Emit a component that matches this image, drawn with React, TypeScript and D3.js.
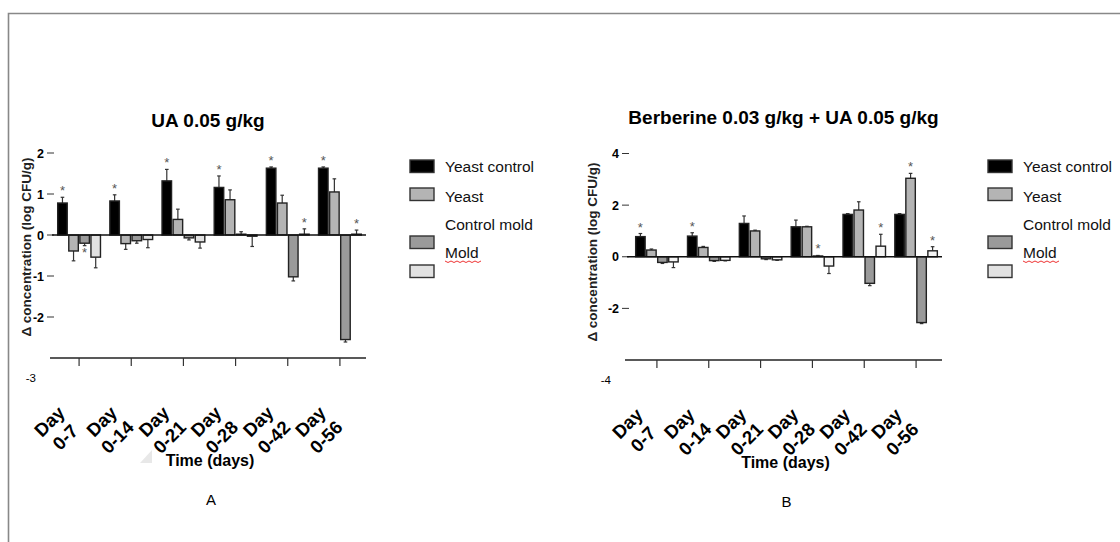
import React from 'react';
import * as d3 from 'd3';

const groups = ['0-7', '0-14', '0-21', '0-28', '0-42', '0-56'];
const seriesNames = ['Yeast control', 'Yeast', 'Control mold', 'Mold'];

// panel A: UA 0.05 g/kg
const yeastControlA = [0.78, 0.83, 1.32, 1.16, 1.63, 1.63];
const yeastControlErrA = [0.14, 0.15, 0.28, 0.28, 0.03, 0.03];
const yeastA = [-0.39, -0.21, 0.38, 0.86, 0.78, 1.05];
const yeastErrA = [0.24, 0.14, 0.25, 0.24, 0.19, 0.32];
const controlMoldA = [-0.2, -0.14, -0.07, 0.02, -1.02, -2.55];
const controlMoldErrA = [0.06, 0.06, 0.05, 0.06, 0.1, 0.06];
const moldA = [-0.54, -0.11, -0.17, -0.03, 0.02, 0.02];
const moldErrA = [0.26, 0.2, 0.15, 0.25, 0.13, 0.1];
const starsA = [
  [1, 1, 1, 1, 1, 1],
  [0, 0, 0, 0, 0, 0],
  [1, 0, 0, 0, 0, 0],
  [0, 0, 0, 0, 1, 1],
];
const ticksA = [2, 1, 0, -1, -2];

// panel B: Berberine 0.03 g/kg + UA 0.05 g/kg
const yeastControlB = [0.78, 0.8, 1.29, 1.16, 1.64, 1.64];
const yeastControlErrB = [0.12, 0.13, 0.29, 0.26, 0.03, 0.03];
const yeastB = [0.26, 0.36, 1.0, 1.16, 1.81, 3.04];
const yeastErrB = [0.04, 0.04, 0.03, 0.02, 0.32, 0.19];
const controlMoldB = [-0.22, -0.15, -0.08, 0.03, -1.03, -2.55];
const controlMoldErrB = [0.04, 0.03, 0.03, 0.02, 0.09, 0.04];
const moldB = [-0.2, -0.14, -0.12, -0.36, 0.41, 0.23];
const moldErrB = [0.22, 0.02, 0.02, 0.29, 0.46, 0.16];
const starsB = [
  [1, 1, 0, 0, 0, 0],
  [0, 0, 0, 0, 0, 1],
  [0, 0, 0, 1, 0, 0],
  [0, 0, 0, 0, 1, 1],
];
const ticksB = [4, 2, 0, -2];

const FONT = '"Liberation Sans", Arial, sans-serif';
const legendFills = ['#000000', '#b4b4b4', '#9a9a9a', '#e2e2e2'];

function Panel({ x0, title, titleY, letter, values, errs, stars, ticks, yDomain, yRange, xRange, axisLeft, barFills, yLabelX, yLabelY }) {
  const y = d3.scaleLinear().domain(yDomain).range(yRange);
  const x = d3.scaleBand().domain(groups).range(xRange).paddingInner(0.18).paddingOuter(0.09);
  const xs = d3.scaleBand().domain(seriesNames).range([0, x.bandwidth()]).paddingInner(0.14);
  const axisY = y(yDomain[0]);
  const axisRight = xRange[1];
  const mid = (axisLeft + axisRight) / 2;
  const bw = xs.bandwidth();

  return (
    <g>
      <text x={mid} y={titleY} textAnchor="middle" fontSize={19} fontWeight="bold" fontFamily={FONT}>{title}</text>

      {/* y axis tick labels */}
      {ticks.map(t => (
        <g key={t}>
          <text x={axisLeft - 6} y={y(t) + 4.5} textAnchor="end" fontSize={12.5} fontWeight="bold" fontFamily={FONT}>{t}</text>
          <line x1={axisLeft - 3} x2={axisLeft + 4} y1={y(t)} y2={y(t)} stroke="#333" strokeWidth={1} />
        </g>
      ))}
      <text x={axisLeft - 14} y={axisY + 24} textAnchor="end" fontSize={11.5} fontFamily={FONT}>{yDomain[0]}</text>

      <text transform={`translate(${yLabelX},${yLabelY}) rotate(-90)`} textAnchor="middle"
        fontSize={13.5} fontWeight="bold" fill="#222" fontFamily={FONT}>Δ concentration (log CFU/g)</text>

      {/* bars */}
      {values.map((vals, s) => vals.map((v, i) => {
        const bx = x(groups[i]) + xs(seriesNames[s]);
        const top = y(Math.max(0, v));
        const h = Math.abs(y(v) - y(0));
        const dir = v >= 0 ? -1 : 1;
        const ey = y(v + (v >= 0 ? errs[s][i] : -errs[s][i]));
        const cx = bx + bw / 2;
        return (
          <g key={`${s}-${i}`}>
            <line x1={cx} x2={cx} y1={y(v)} y2={ey} stroke="#333" strokeWidth={1.2} />
            <line x1={cx - 1.8} x2={cx + 1.8} y1={ey} y2={ey} stroke="#333" strokeWidth={1.2} />
            <rect x={bx} y={top} width={bw} height={Math.max(h, 0.8)} fill={barFills[s]} stroke="#222" strokeWidth={1.4} />
            {stars[s][i] ? (
              <text x={cx} y={dir < 0 ? ey - 2 : ey + 11} textAnchor="middle" fontSize={13} fill="#555" fontFamily={FONT}>*</text>
            ) : null}
          </g>
        );
      }))}

      {/* zero line */}
      <line x1={axisLeft + 2} x2={axisRight} y1={y(0)} y2={y(0)} stroke="#111" strokeWidth={1.3} />

      {/* x axis */}
      <line x1={axisLeft} x2={axisRight} y1={axisY} y2={axisY} stroke="#222" strokeWidth={1.3} />
      {groups.map(g => {
        const tx = x(g) + x.bandwidth() / 2;
        return (
          <g key={g}>
            <line x1={tx} x2={tx} y1={axisY} y2={axisY + 8} stroke="#333" strokeWidth={1.2} />
            <text transform={`translate(${tx - 25},${axisY + 68}) rotate(-45)`} textAnchor="middle" fontSize={18.5}
              fontWeight="bold" fontFamily={FONT}>
              <tspan x={0} dy={0}>Day</tspan>
              <tspan x={0} dy="1.2em">{g}</tspan>
            </text>
          </g>
        );
      })}
      <text x={mid + 2} y={axisY + 108} textAnchor="middle" fontSize={16} fontWeight="bold" fontFamily={FONT}>Time (days)</text>
      <text x={mid + 3} y={axisY + 147} textAnchor="middle" fontSize={15} fontFamily={FONT}>{letter}</text>

      {/* legend */}
      {[0, 1, 2, 3].map(s => (
        <rect key={s} x={x0} y={[160, 188, 236, 265][s]} width={24} height={12.5} fill={legendFills[s]} stroke="#333" strokeWidth={1.4} />
      ))}
      {seriesNames.map((n, s) => (
        <text key={n} x={x0 + 35} y={[172, 202, 230, 258][s]} fontSize={15.5} fill="#111" fontFamily={FONT}>{n}</text>
      ))}
      <path d={d3.range(0, 37, 3).map((d, k) => `${k === 0 ? 'M' : 'L'}${x0 + 35 + d},${261 + (k % 2 ? 1.5 : 0)}`).join('')}
        fill="none" stroke="#e33" strokeWidth={1} />
    </g>
  );
}

export default function App() {
  return (
    <svg width={1120} height={542} style={{ position: 'absolute', left: 0, top: 0, background: '#fff' }}>
      <rect width={1120} height={542} fill="#fff" />
      <path d="M8.5,542 L8.5,13.5 L1120,13.5" fill="none" stroke="#888" strokeWidth={1.6} />
      <polygon points="140,463 152,450 152,463" fill="#e8e8e8" />
      <Panel
        x0={410}
        title="UA 0.05 g/kg"
        titleY={127}
        letter="A"
        values={[yeastControlA, yeastA, controlMoldA, moldA]}
        errs={[yeastControlErrA, yeastErrA, controlMoldErrA, moldErrA]}
        stars={starsA}
        ticks={ticksA}
        yDomain={[-3, 2]}
        yRange={[358, 153]}
        xRange={[53, 366]}
        axisLeft={50}
        yLabelX={31}
        yLabelY={247}
        barFills={['#000000', '#b4b4b4', '#9a9a9a', '#e2e2e2']}
      />
      <Panel
        x0={988}
        title="Berberine 0.03 g/kg + UA 0.05 g/kg"
        titleY={124}
        letter="B"
        values={[yeastControlB, yeastB, controlMoldB, moldB]}
        errs={[yeastControlErrB, yeastErrB, controlMoldErrB, moldErrB]}
        stars={starsB}
        ticks={ticksB}
        yDomain={[-4, 4]}
        yRange={[360, 153.5]}
        xRange={[631, 942]}
        axisLeft={625}
        yLabelX={597}
        yLabelY={252}
        barFills={['#000000', '#b4b4b4', '#9a9a9a', '#f4f4f4']}
      />
    </svg>
  );
}
